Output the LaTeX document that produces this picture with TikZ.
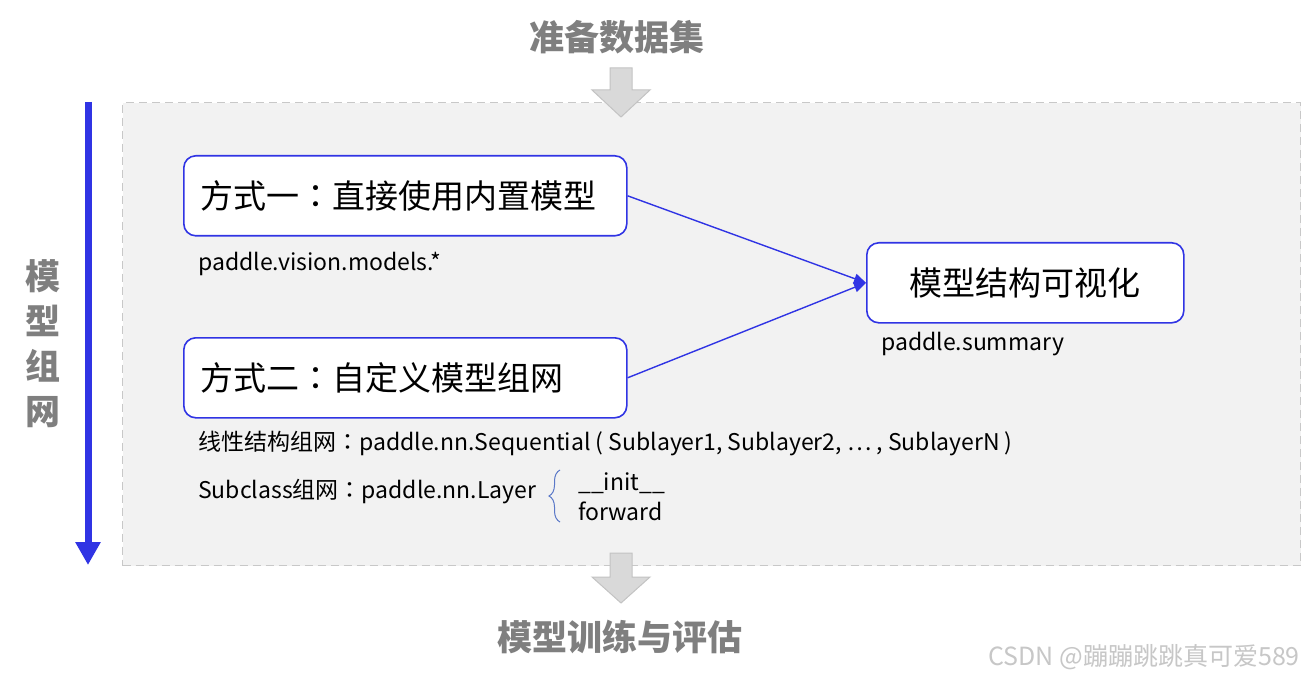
\documentclass[tikz,border=0pt]{standalone}
\usepackage{fontspec}
\setmainfont{Noto Sans CJK SC}
\newfontfamily\cjkjp{Noto Sans CJK JP}
\newcommand{\fwcolon}{{\cjkjp ：}}
\usetikzlibrary{arrows.meta,decorations.pathreplacing}
\definecolor{myblue}{RGB}{48,52,228}
\definecolor{bracecol}{RGB}{90,120,200}
\definecolor{titlegray}{RGB}{127,127,127}
\definecolor{panelfill}{RGB}{242,242,242}
\definecolor{paneldraw}{RGB}{200,200,200}
\definecolor{blockfill}{RGB}{217,217,217}
\definecolor{blockdraw}{RGB}{195,195,195}
\tikzset{
  titletext/.style={font=\fontsize{35}{40}\selectfont\bfseries, text=titlegray, inner sep=0pt},
  modebox/.style={draw=myblue, line width=1.6pt, fill=white, rounded corners=12pt,
     minimum height=80pt, font=\fontsize{33}{38}\selectfont},
  codetext/.style={font=\fontsize{23}{27}\selectfont, inner sep=0pt, anchor=west},
  conn/.style={draw=myblue, line width=1.4pt, -{Triangle[length=12pt,width=10pt]}},
  blockarrow/.style={fill=blockfill, draw=blockdraw, line width=1pt},
}
\begin{document}
\begin{tikzpicture}[x=1pt,y=1pt]
\useasboundingbox (0,0) rectangle (1304,-679);
\fill[white] (0,0) rectangle (1304,-679);

% panel
\node[draw=paneldraw, fill=panelfill, line width=1.2pt, dash pattern=on 8pt off 5pt,
  minimum width=1178pt, minimum height=463pt, inner sep=0pt, anchor=north west] (panel) at (122,-102) {};

% titles
\node[titletext] (t1) at (617,-37) {准备数据集};
\node[titletext] (t2) at (620,-637) {模型训练与评估};

% block arrows
\draw[blockarrow] (610,-68) -- (632,-68) -- (632,-90) -- (650,-90) -- (621,-117) -- (592,-90) -- (610,-90) -- cycle;
\draw[blockarrow] (610,-553) -- (632,-553) -- (632,-577) -- (650,-577) -- (621,-603) -- (592,-577) -- (610,-577) -- cycle;

% left vertical arrow and label
\coordinate (vtop) at (88,-102);
\coordinate (vbot) at (88,-565);
\draw[myblue, line width=7pt, -{Triangle[length=23pt,width=24pt]}] (vtop) -- (vbot);
\node[font=\fontsize{35}{45}\selectfont\bfseries, text=titlegray, align=center, inner sep=0pt] (vlab) at (43,-344) {模\\型\\组\\网};

% boxes
\node[modebox, minimum width=443pt, text width=409pt, inner xsep=17pt, align=left, anchor=north west] (b1) at (183,-155) {方式一\fwcolon 直接使用内置模型};
\node[modebox, minimum width=443pt, text width=409pt, inner xsep=17pt, align=left, anchor=north west] (b2) at (183,-337) {方式二\fwcolon 自定义模型组网};
\node[modebox, minimum width=317pt, anchor=north west] (b3) at (866,-242) {模型结构可视化};

% connectors
\draw[conn] (b1.east) -- (b3.west);
\draw[conn] (b2.east) -- (b3.west);

% code labels
\node[codetext] (c1) at (198,-264) {paddle.vision.models.*};
\node[codetext] (c2) at (881,-344) {paddle.summary};
\node[codetext] (c3) at (198,-444) {线性结构组网\fwcolon paddle.nn.Sequential ( Sublayer1, Sublayer2, … , SublayerN )};
\node[codetext] (c4) at (198,-492) {Subclass组网\fwcolon paddle.nn.Layer};
\coordinate (brb) at (560,-522);
\coordinate (brt) at (560,-470);
\draw[bracecol, line width=1pt, decorate, decoration={brace, amplitude=11pt}] (brb) -- (brt);
\node[codetext] (c5) at (578,-483) {\_\_init\_\_};
\node[codetext] (c6) at (578,-511) {forward};

% watermark
\node[font=\fontsize{25}{29}\selectfont, text=black!22, inner sep=0pt, anchor=east] (wm) at (1300,-657) {CSDN @蹦蹦跳跳真可爱589};
\end{tikzpicture}
\end{document}
